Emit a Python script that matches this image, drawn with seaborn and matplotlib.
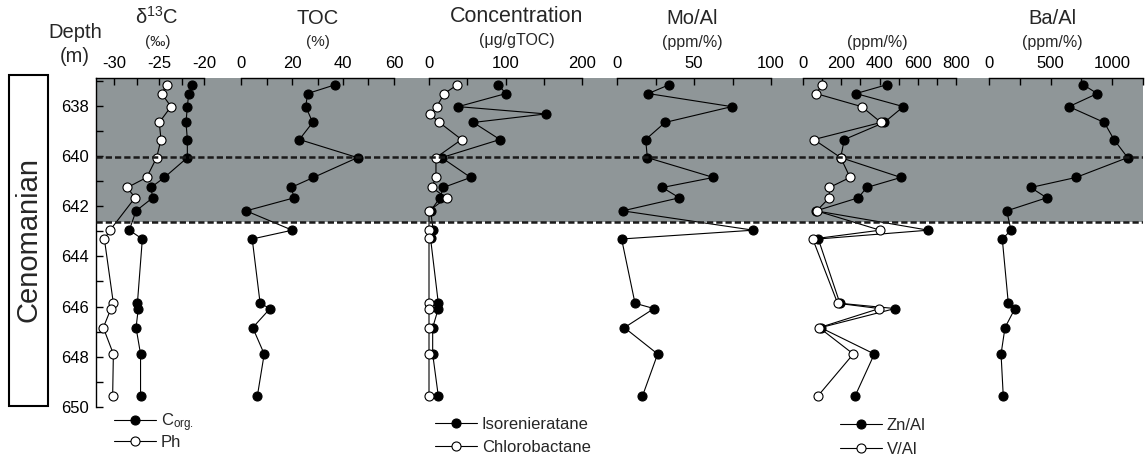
import matplotlib
matplotlib.use("Agg")
import matplotlib.pyplot as plt
import seaborn as sns
from matplotlib.patches import Rectangle

# ---------------- data ----------------
depth = [637.17, 637.52, 638.04, 638.67, 639.35, 640.07, 640.86, 641.26, 641.67,
         642.19, 642.96, 643.31, 645.87, 646.08, 646.84, 647.89, 649.57]

c_org = [-21.3, -21.7, -21.85, -22.0, -21.85, -21.85, -24.4, -25.9, -25.7,
         -27.55, -28.3, -26.85, -27.4, -27.3, -27.55, -27.05, -27.05]

ph_depth = [637.17, 637.52, 638.04, 638.67, 639.35, 640.07, 640.86, 641.26, 641.67,
            642.96, 643.31, 645.87, 646.08, 646.84, 647.89, 649.57]
ph = [-24.15, -24.7, -23.67, -24.97, -24.78, -25.26, -26.37, -28.52, -27.67,
      -30.44, -31.07, -30.07, -30.33, -31.19, -30.07, -30.15]

toc = [36.9, 26.1, 25.4, 28.1, 22.9, 45.7, 28.4, 19.6, 20.9,
       2.0, 20.1, 4.4, 7.5, 11.4, 4.6, 9.1, 6.4]

conc_depth = [637.17, 637.52, 638.04, 638.33, 638.67, 639.35, 640.07, 640.86, 641.26,
              641.67, 642.19, 642.96, 643.28, 645.87, 646.08, 646.84, 647.89, 649.57]
isorenieratane = [90.5, 100.5, 38.3, 153, 57.9, 92.7, 16.5, 54.4, 18.7,
                  14.4, 2.0, 5.6, 2.0, 12.2, 12.2, 4.8, 4.8, 12.2]
chlorobactane = [37, 20, 10, 1.3, 13.5, 42.6, 9.1, 9.1, 3.5,
                 23, 0, 0, 0, 0, 0, 0, 0, 0]

mo_al = [33.8, 20.3, 74.5, 31.2, 18.6, 19.7, 62.6, 29.4, 40.5,
         3.7, 88.5, 3.0, 11.7, 24.0, 4.8, 26.4, 16.5]
zn_al = [437, 277, 525, 425, 216, 197, 512, 333, 289,
         68, 655, 80, 193, 481, 92, 373, 272]
v_al = [101, 68, 307, 408, 57, 197, 246, 138, 138,
        71, 403, 51, 181, 399, 85, 263, 77]
ba_al = [767, 880, 650, 937, 1016, 1127, 707, 339, 469,
         144, 179, 108, 157, 211, 130, 98, 116]

depth_ticks = [638, 640, 642, 644, 646, 648, 650]
boundary_top = 640.05
boundary_base = 642.63

# ---------------- style ----------------
sns.set_theme(style="ticks")
plt.rcParams["font.family"] = ["Liberation Sans", "DejaVu Sans"]
plt.rcParams["mathtext.fontset"] = "custom"
plt.rcParams["mathtext.rm"] = "Liberation Sans"
plt.rcParams["mathtext.it"] = "Liberation Sans"
plt.rcParams["axes.linewidth"] = 1.0
plt.rcParams["axes.edgecolor"] = "black"
plt.rcParams["xtick.color"] = "black"
plt.rcParams["ytick.color"] = "black"

W, H = 1148, 457
TOP, BOT = 78, 407
YLIM = (650, 636.9)
GRAY = "#8f9698"

fig = plt.figure(figsize=(W / 100, H / 100), dpi=100)


def px_axes(x0, x1, z=1):
    ax = fig.add_axes([x0 / W, 1 - BOT / H, (x1 - x0) / W, (BOT - TOP) / H], zorder=z)
    ax.set_ylim(*YLIM)
    return ax


def ftext(x, y, s, **kw):
    fig.text(x / W, 1 - y / H, s, ha="center", va="center", **kw)


# gray shaded interval behind all panels
bg = px_axes(96, 1143, z=0)
bg.axhspan(YLIM[1], boundary_base, color=GRAY, lw=0)
bg.set_xlim(0, 1)
bg.axis("off")

# panels: (x0px, x1px, anchor px/value pairs, major, minor, spine bounds)
panels = [
    (96, 225, (114, -30), (204, -20), [-30, -25, -20], [-27.5, -22.5], (None, -20)),
    (225, 415, (241, 0), (394, 60), [0, 20, 40, 60], [10, 30, 50], (0, 60)),
    (415, 600, (429, 0), (582, 200), [0, 100, 200], [50, 150], (0, 200)),
    (600, 790, (617, 0), (771, 100), [0, 50, 100], [25, 75], (0, 100)),
    (790, 975, (803, 0), (956, 800), list(range(0, 801, 200)), list(range(100, 800, 200)), (0, 800)),
    (975, 1143, (989, 0), (1112, 1000), [0, 500, 1000], [250, 750, 1250], (0, 1250)),
]

axes = []
for x0, x1, (pa, va), (pb, vb), major, minor, (lo, hi) in panels:
    ax = px_axes(x0, x1, z=2)
    k = (vb - va) / (pb - pa)
    ax.set_xlim(va + (x0 - pa) * k, va + (x1 - pa) * k)
    ax.patch.set_visible(False)
    ax.xaxis.tick_top()
    ax.set_xticks(major)
    ax.set_xticks(minor, minor=True)
    ax.set_xticklabels([str(t) for t in major])
    ax.tick_params(axis="x", which="both", direction="in", length=5, width=1,
                   top=True, bottom=False, labeltop=True, labelbottom=False,
                   pad=5, labelsize=12)
    for s in ["bottom", "right", "left"]:
        ax.spines[s].set_visible(False)
    ax.spines["top"].set_bounds(ax.get_xlim()[0] if lo is None else lo, hi)
    ax.set_yticks([])
    ax.set_xlabel("")
    ax.set_ylabel("")
    axes.append(ax)

ax1, ax2, ax3, ax4, ax5, ax6 = axes

# depth axis
ax1.spines["left"].set_visible(True)
ax1.set_yticks(depth_ticks)
ax1.set_yticks(range(637, 650), minor=True)
ax1.set_yticklabels([str(t) for t in depth_ticks])
ax1.tick_params(axis="y", which="both", direction="in", length=5, width=1,
                left=True, labelleft=True, pad=5, labelsize=12)
ax1.set_ylim(*YLIM)

line_kw = dict(sort=False, estimator=None, orient="y", color="black", marker="o",
               markersize=6.5, markeredgecolor="black", markeredgewidth=0.8,
               linewidth=0.8, legend=False)


def profile(ax, x, y, face, label=None):
    sns.lineplot(x=x, y=y, ax=ax, markerfacecolor=face, label=label, **line_kw)
    ax.set_ylim(*YLIM)
    ax.set_xlabel("")
    ax.set_ylabel("")
    return ax.lines[-1]


h_corg = profile(ax1, c_org, depth, "black", "C$_{\\mathrm{org.}}$")
h_ph = profile(ax1, ph, ph_depth, "white", "Ph")
profile(ax2, toc, depth, "black")
h_iso = profile(ax3, isorenieratane, conc_depth, "black", "Isorenieratane")
h_chl = profile(ax3, chlorobactane, conc_depth, "white", "Chlorobactane")
profile(ax4, mo_al, depth, "black")
h_zn = profile(ax5, zn_al, depth, "black", "Zn/Al")
h_v = profile(ax5, v_al, depth, "white", "V/Al")
profile(ax6, ba_al, depth, "black")

# dashed boundaries drawn over everything
ov = px_axes(96, 1143, z=5)
ov.set_xlim(0, 1)
ov.axis("off")
for d in (boundary_top, boundary_base):
    ov.axhline(d, color="#1a1a1a", lw=1.8, ls=(0, (2.5, 1.2)))

# legends
leg_kw = dict(loc="upper left", bbox_transform=fig.transFigure, frameon=False,
              borderpad=0, borderaxespad=0, handlelength=2.5, handletextpad=0.3,
              fontsize=12)
ax1.legend([h_corg, h_ph], ["C$_{\\mathrm{org.}}$", "Ph"], labelspacing=0.1,
           bbox_to_anchor=(114 / W, 1 - 411 / H), **leg_kw)
ax3.legend([h_iso, h_chl], ["Isorenieratane", "Chlorobactane"], labelspacing=0.45,
           bbox_to_anchor=(435 / W, 1 - 417 / H), **leg_kw)
ax5.legend([h_zn, h_v], ["Zn/Al", "V/Al"], labelspacing=0.55,
           bbox_to_anchor=(840 / W, 1 - 418 / H), **leg_kw)

# headers
ftext(75, 32, "Depth", fontsize=14.5)
ftext(75, 57, "(m)", fontsize=14.5)
ftext(157, 17, "δ$^{13}$C", fontsize=14.5)
ftext(158, 42, "(‰)", fontsize=11)
ftext(318, 18, "TOC", fontsize=14.5)
ftext(318, 42, "(%)", fontsize=11)
ftext(517, 16, "Concentration", fontsize=15.5)
ftext(517, 40, "(μg/gTOC)", fontsize=11.5)
ftext(692, 18, "Mo/Al", fontsize=14.5)
ftext(692, 42, "(ppm/%)", fontsize=11.5)
ftext(877, 43, "(ppm/%)", fontsize=11.5)
ftext(1052, 18, "Ba/Al", fontsize=14.5)
ftext(1052, 43, "(ppm/%)", fontsize=11.5)

# stage column
fig.add_artist(Rectangle((9 / W, 1 - 406 / H), 39 / W, 331 / H,
                         transform=fig.transFigure, fill=False, ec="black", lw=1.5))
fig.text(28.5 / W, 1 - 240 / H, "Cenomanian", rotation=90, ha="center", va="center",
         fontsize=21)

fig.savefig("out.png", dpi=100)
